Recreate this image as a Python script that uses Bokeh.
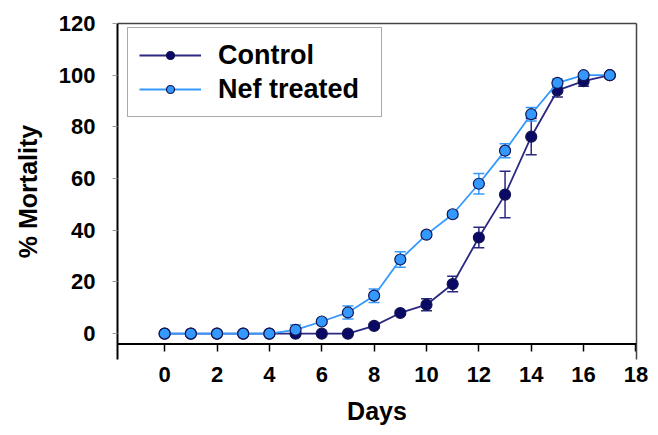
from bokeh.plotting import figure
from bokeh.models import (ColumnDataSource, Whisker, TeeHead, Span, LinearAxis,
                          FixedTicker, Legend, LegendItem, Range1d, Title)
from bokeh.embed import file_html
from bokeh.resources import INLINE

# ---- data ----
days = list(range(18))
control = [0, 0, 0, 0, 0, 0, 0, 0, 3, 8, 11.2, 19.2, 37.2, 53.8, 76.2, 94.1, 97.7, 100]
control_err = [0, 0, 0, 0, 0, 0, 0, 0, 0.8, 0.8, 2.3, 3, 4, 9, 7, 2.5, 2, 0]
nef = [0, 0, 0, 0, 0, 1.5, 4.7, 8.2, 14.7, 28.7, 38.3, 46.2, 58, 70.8, 84.9, 97, 100, 100]
nef_err = [0, 0, 0, 0, 0, 1.8, 0.8, 2.5, 2.6, 3, 1, 1.2, 4, 2.7, 2.6, 1.5, 0.5, 0]
x_ticks = [0, 2, 4, 6, 8, 10, 12, 14, 16, 18]
y_ticks = [0, 20, 40, 60, 80, 100, 120]

CTRL_LINE = "#2b2882"
CTRL_FILL = "#0a0a66"
NEF_LINE = "#3399ff"
NEF_FILL = "#3399ff"
EDGE = "#141450"
FONT = "Liberation Sans"


def err_source(xs, ys, es):
    keep = [i for i, e in enumerate(es) if e > 0]
    return ColumnDataSource(dict(
        x=[xs[i] for i in keep],
        lo=[ys[i] - es[i] for i in keep],
        hi=[ys[i] + es[i] for i in keep],
    ))


p = figure(width=650, height=435, output_backend="svg", toolbar_location=None,
           x_range=Range1d(-1.8, 18.02), y_range=Range1d(-10, 120),
           x_axis_location=None, y_axis_location=None,
           min_border_left=117, min_border_right=14, min_border_top=23, min_border_bottom=75)
p.outline_line_color = None
p.grid.visible = False
p.background_fill_color = "white"
p.border_fill_color = "white"

# left axis
yaxis = LinearAxis(ticker=FixedTicker(ticks=y_ticks), axis_label="% Mortality")
yaxis.axis_line_color = "black"
yaxis.axis_line_width = 2
yaxis.major_tick_in = 0
yaxis.major_tick_out = 5
yaxis.major_tick_line_color = "#999999"
yaxis.minor_tick_line_color = None
yaxis.major_label_standoff = 17
yaxis.major_label_text_font = FONT
yaxis.major_label_text_font_style = "bold"
yaxis.major_label_text_font_size = "22px"
yaxis.major_label_text_color = "black"
yaxis.axis_label_text_font = FONT
yaxis.axis_label_text_font_style = "bold"
yaxis.axis_label_text_font_size = "25px"
yaxis.axis_label_text_color = "black"
yaxis.axis_label_standoff = 14
p.add_layout(yaxis, "left")

# bottom axis (ticks hang from the x-axis line drawn as a span)
xaxis = LinearAxis(ticker=FixedTicker(ticks=x_ticks))
xaxis.axis_line_color = None
xaxis.major_tick_in = 16
xaxis.major_tick_out = -8
xaxis.major_tick_line_color = "black"
xaxis.major_tick_line_width = 1.5
xaxis.minor_tick_line_color = None
xaxis.major_label_standoff = 7
xaxis.major_label_text_font = FONT
xaxis.major_label_text_font_style = "bold"
xaxis.major_label_text_font_size = "22px"
xaxis.major_label_text_color = "black"
p.add_layout(xaxis, "below")

# x-axis title as a title in the bottom panel
p.add_layout(Title(text="Days", align="center", text_font=FONT, text_font_style="bold",
                   text_font_size="25px", text_color="black", standoff=21, offset=0),
             "below")

# top / right border lines
for loc in ("above", "right"):
    ax = LinearAxis(ticker=FixedTicker(ticks=[]))
    ax.axis_line_color = "#444444"
    ax.axis_line_width = 1.5
    ax.major_tick_line_color = None
    ax.minor_tick_line_color = None
    ax.major_label_text_font_size = "0px"
    p.add_layout(ax, loc)

p.add_layout(Span(location=-4, dimension="width", line_color="black", line_width=2))

# Control series
c_line = p.line(days, control, line_color=CTRL_LINE, line_width=1.8)
cs = err_source(days, control, control_err)
p.add_layout(Whisker(source=cs, base="x", upper="hi", lower="lo",
                     line_color=CTRL_LINE, line_width=1.5,
                     upper_head=TeeHead(size=11, line_color=CTRL_LINE, line_width=1.5),
                     lower_head=TeeHead(size=11, line_color=CTRL_LINE, line_width=1.5)))
c_pts = p.scatter(days, control, size=11, fill_color=CTRL_FILL, line_color=EDGE, line_width=1.2)

# Nef treated series
n_line = p.line(days, nef, line_color=NEF_LINE, line_width=1.8)
ns = err_source(days, nef, nef_err)
p.add_layout(Whisker(source=ns, base="x", upper="hi", lower="lo",
                     line_color=NEF_LINE, line_width=1.5,
                     upper_head=TeeHead(size=11, line_color=NEF_LINE, line_width=1.5),
                     lower_head=TeeHead(size=11, line_color=NEF_LINE, line_width=1.5)))
n_pts = p.scatter(days, nef, size=11, fill_color=NEF_FILL, line_color=EDGE, line_width=1.2)

legend = Legend(items=[LegendItem(label="Control", renderers=[c_line, c_pts]),
                       LegendItem(label="Nef treated", renderers=[n_line, n_pts])],
                location=(10, 242))
legend.border_line_color = "#555555"
legend.border_line_width = 1.5
legend.background_fill_color = "white"
legend.padding = 11
legend.margin = 0
legend.spacing = 2
legend.glyph_width = 62
legend.glyph_height = 20
legend.label_height = 32
legend.label_width = 152
legend.label_standoff = 17
legend.label_text_font = FONT
legend.label_text_font_style = "bold"
legend.label_text_font_size = "27px"
legend.label_text_color = "black"
p.add_layout(legend, "center")

open("out.html", "w").write(file_html(p, INLINE))
